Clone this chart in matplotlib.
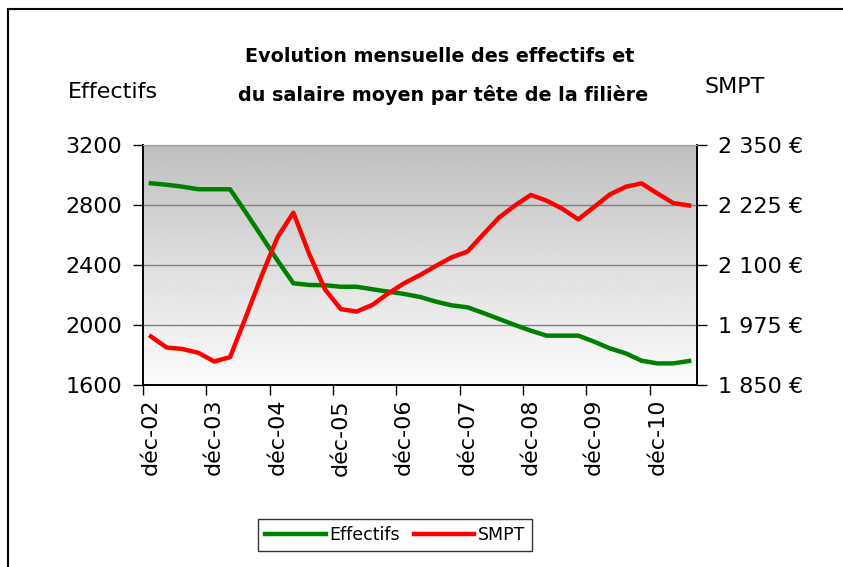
import matplotlib.pyplot as plt
import numpy as np
from matplotlib.patches import Rectangle
from matplotlib.ticker import FuncFormatter

# quarterly data, déc-02 .. juin-11
effectifs = [2945, 2935, 2922, 2905, 2905, 2905, 2750, 2590, 2430, 2278,
             2267, 2265, 2255, 2255, 2238, 2222, 2207, 2187, 2156, 2131,
             2118, 2080, 2040, 2000, 1962, 1929, 1929, 1929, 1889, 1844,
             1811, 1762, 1744, 1744, 1760]
smpt = [1951, 1928, 1925, 1917, 1899, 1908, 1992, 2078, 2158, 2209,
        2123, 2049, 2008, 2003, 2017, 2041, 2062, 2079, 2098, 2116,
        2128, 2164, 2199, 2224, 2246, 2234, 2217, 2195, 2221, 2247,
        2263, 2270, 2249, 2229, 2224]
year_labels = ["déc-02", "déc-03", "déc-04", "déc-05", "déc-06",
               "déc-07", "déc-08", "déc-09", "déc-10"]

x = np.arange(len(effectifs))

fig = plt.figure(figsize=(8.43, 5.67), dpi=100)
W, H = 843, 567
ax = fig.add_axes([143 / W, 1 - 385 / H, (697 - 143) / W, (385 - 145) / H])
ax2 = ax.twinx()

# gradient background of the plot area
grad = np.linspace(0.75, 0.99, 256).reshape(-1, 1)
ax.imshow(grad, cmap="gray", vmin=0, vmax=1, aspect="auto",
          extent=[0, 1, 0, 1], transform=ax.transAxes, zorder=0)

ax.set_ylim(1600, 3200)
ax.set_yticks([1600, 2000, 2400, 2800, 3200])
ax.set_xlim(-0.5, len(x) - 0.5)
for v in [2000, 2400, 2800, 3200]:
    ax.axhline(v, color="#808080", lw=1, zorder=1)

ax2.set_ylim(1850, 2350)
ax2.set_yticks([1850, 1975, 2100, 2225, 2350])
ax2.yaxis.set_major_formatter(FuncFormatter(
    lambda v, p: "{:,.0f} €".format(v).replace(",", " ")))

l1, = ax2.plot(x, effectifs, color="#008000", lw=3.2, zorder=3,
               transform=ax.transData, label="Effectifs")
l2, = ax2.plot(x, smpt, color="#ff0000", lw=3.2, zorder=4, label="SMPT")

# x axis: labels every 4 quarters, tick marks between categories
ax.set_xticks(x[::4])
ax.set_xticklabels(year_labels, rotation=90, fontsize=16)
ax.set_xticks(np.arange(-0.5, len(x), 4), minor=True)
ax.tick_params(axis="x", which="major", length=0, pad=10)
ax.tick_params(axis="x", which="minor", length=7, width=1, direction="out")
ax.tick_params(axis="y", labelsize=16, length=7, width=1, pad=8)
ax2.tick_params(axis="y", labelsize=16, length=7, width=1, pad=8)

for a in (ax, ax2):
    a.spines["top"].set_color("#a0a0a0")
    for s in ("left", "right", "bottom"):
        a.spines[s].set_linewidth(1.2)

fig.text(440 / W, 1 - 57 / H, "Evolution mensuelle des effectifs et",
         ha="center", va="center", fontsize=13.8, fontweight="bold")
fig.text(443 / W, 1 - 95 / H, "du salaire moyen par tête de la filière",
         ha="center", va="center", fontsize=13.8, fontweight="bold")
fig.text(68 / W, 1 - 92 / H, "Effectifs", ha="left", va="center", fontsize=16)
fig.text(705 / W, 1 - 87 / H, "SMPT", ha="left", va="center", fontsize=16)

leg = fig.legend(handles=[l1, l2], loc="center", ncol=2,
                 bbox_to_anchor=(395 / W, 1 - 535 / H), frameon=True,
                 fancybox=False, edgecolor="black", fontsize=12.5,
                 handlelength=3.5, handletextpad=0.2, columnspacing=0.8,
                 borderpad=0.4)
leg.get_frame().set_linewidth(1)

# outer chart frame
fig.patches.append(Rectangle((8 / W, -0.1), 1.2, 1 - 9 / H + 0.1,
                             transform=fig.transFigure, fill=False,
                             edgecolor="black", lw=1.5))

fig.savefig("out.png", dpi=100)
